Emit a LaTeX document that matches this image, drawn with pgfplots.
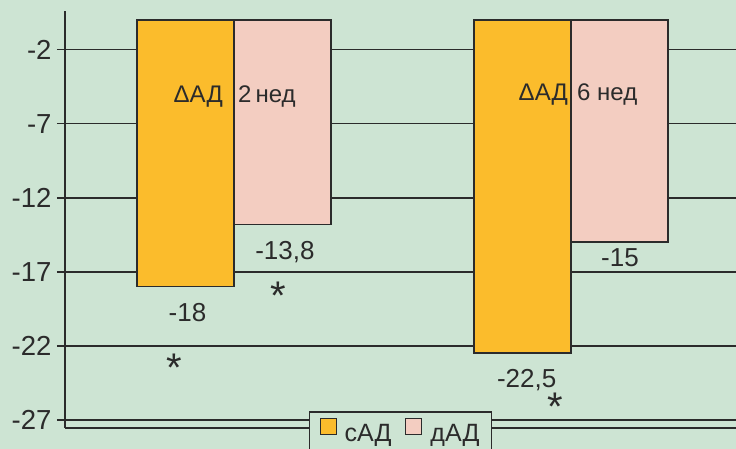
\documentclass[border=0pt]{standalone}
\usepackage{fontspec}
\setmainfont{Liberation Sans}
\usepackage{pgfplots}
\pgfplotsset{compat=1.18}
\definecolor{bgC}{HTML}{CDE4D3}
\definecolor{yelC}{HTML}{FBBC2C}
\definecolor{pinkC}{HTML}{F3CDC1}
\definecolor{lineC}{HTML}{2B2B2B}
\begin{document}
\begin{tikzpicture}
\useasboundingbox (-65pt,-21pt) rectangle (671pt,428pt);
\fill[bgC] (-65pt,-21pt) rectangle (671pt,428pt);
\begin{axis}[
  scale only axis, width=671pt, height=417pt,
  at={(0pt,0pt)}, anchor=south west,
  xmin=0.4985, xmax=2.4896, ymin=-27.55, ymax=0.6,
  axis x line*=bottom, axis y line*=left,
  axis line style={-, line width=2pt, color=lineC},
  xtick=\empty,
  ytick={-27,-22,-17,-12,-7,-2},
  yticklabels={-27,-22,-17,-12,-7,-2},
  yticklabel style={font=\fontsize{27.5}{27.5}\selectfont, text=lineC, xshift=-2pt},
  tick align=outside, major tick length=8pt,
  tick style={line width=1.8pt, color=lineC},
  ymajorgrids, grid style={line width=1.8pt, color=lineC},
  ybar, bar width=0.2878,
  clip=false,
  legend style={at={(rel axis cs:0.5,0.041)}, anchor=north, legend columns=-1,
    draw=lineC, line width=1.8pt, fill=bgC, text=lineC,
    font=\fontsize{25}{25}\selectfont, inner xsep=10pt, inner ysep=6pt,
    /tikz/every odd column/.append style={column sep=6pt},
    /tikz/every even column/.append style={column sep=12pt}},
  legend image code/.code={\path[draw,fill,#1,line width=1pt] (0pt,-1pt) rectangle (16pt,15pt);},
]
\addplot[fill=yelC, draw=lineC, line width=1.5pt, bar shift=-0.1439] coordinates {(1,-18) (2,-22.5)};
\addlegendentry{сАД}
\addplot[fill=pinkC, draw=lineC, line width=1.5pt, bar shift=0.1439] coordinates {(1,-13.8) (2,-15)};
\addlegendentry{дАД}

\begin{scope}[every node/.style={text=lineC, inner sep=0pt}]
\node[anchor=base east, font=\fontsize{24}{24}\selectfont] at (axis cs:1,-5.58) [xshift=-11pt] {ΔАД};
\node[anchor=base west, font=\fontsize{24}{24}\selectfont] at (axis cs:1,-5.58) [xshift=4pt] {2\,нед};
\node[anchor=base east, font=\fontsize{24}{24}\selectfont] at (axis cs:2,-5.45) [xshift=-3pt] {ΔАД};
\node[anchor=base west, font=\fontsize{24}{24}\selectfont] at (axis cs:2,-5.45) [xshift=6pt] {6 нед};
\node[anchor=base, font=\fontsize{26}{26}\selectfont] at (axis cs:0.862,-20.38) {-18};
\node[anchor=base, font=\fontsize{26}{26}\selectfont] at (axis cs:1.151,-16.19) {-13,8};
\node[anchor=base, font=\fontsize{26}{26}\selectfont] at (axis cs:1.8685,-24.84) {-22,5};
\node[anchor=base, font=\fontsize{26}{26}\selectfont] at (axis cs:2.1454,-16.66) {-15};
\node[anchor=north, font=\fontsize{40}{40}\selectfont, yshift=6pt] at (axis cs:0.822,-22.94) {*};
\node[anchor=north, font=\fontsize{40}{40}\selectfont, yshift=6pt] at (axis cs:1.1306,-18.08) {*};
\node[anchor=north, font=\fontsize{40}{40}\selectfont, yshift=6pt] at (axis cs:1.9525,-25.58) {*};
\end{scope}
\end{axis}
\end{tikzpicture}
\end{document}
